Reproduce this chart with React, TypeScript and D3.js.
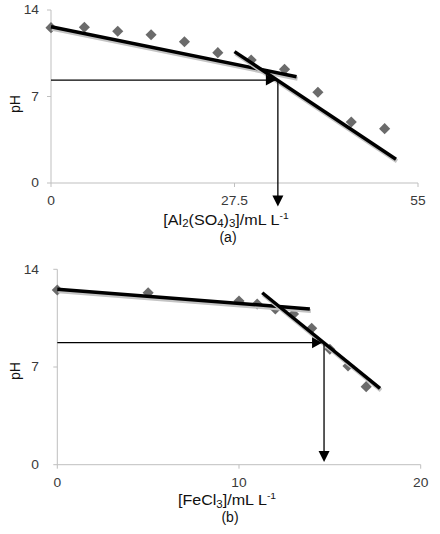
import React from "react";
import * as d3 from "d3";

// ---- data (a): Al2(SO4)3 ----
const alDose = [0, 5, 10, 15, 20, 25, 30, 35, 40, 45, 50];
const alPH = [12.57, 12.6, 12.28, 12.0, 11.43, 10.55, 9.95, 9.2, 7.34, 4.94, 4.4];
const alFit1 = [
  { x: 0, y: 12.65 },
  { x: 36.8, y: 8.6 },
];
const alFit2 = [
  { x: 27.5, y: 10.63 },
  { x: 51.7, y: 1.92 },
];
const alArrow = { x: 34, y: 8.33, yEnd: -1.9 };
const alXTicks = [0, 27.5, 55];

// ---- data (b): FeCl3 ----
const feDose = [0, 5, 10, 11, 12, 13, 14, 15, 16, 17];
const fePH = [12.52, 12.32, 11.73, 11.51, 11.16, 10.8, 9.77, 8.27, 7.07, 5.59];
const feFit1 = [
  { x: 0, y: 12.57 },
  { x: 13.9, y: 11.16 },
];
const feFit2 = [
  { x: 11.28, y: 12.32 },
  { x: 17.76, y: 5.47 },
];
const feArrow = { x: 14.68, y: 8.74, yEnd: 0.2 };
const feXTicks = [0, 10, 20];

const yTicks = [0, 7, 14];

const FONT = "Liberation Sans, Arial, sans-serif";
const AXIS = "#bfbfbf";
const TXT = "#3a3a3a";
const STRETCH = 1.15;

type Pt = { x: number; y: number };

function SText(props: {
  x: number;
  y: number;
  size: number;
  anchor?: string;
  fill?: string;
  children: React.ReactNode;
}) {
  return (
    <g transform={`translate(${props.x},${props.y}) scale(${STRETCH},1)`}>
      <text
        x={0}
        y={0}
        textAnchor={props.anchor || "middle"}
        fontSize={props.size}
        fill={props.fill || "#111"}
        fontFamily={FONT}
      >
        {props.children}
      </text>
    </g>
  );
}

function Panel(props: {
  xs: number[];
  ys: number[];
  fit1: Pt[];
  fit2: Pt[];
  arrow: { x: number; y: number; yEnd: number };
  xDomain: [number, number];
  xRange: [number, number];
  yRange: [number, number];
  xTicks: number[];
  xTitle: React.ReactNode;
  xTitleX: number;
  xTitleY: number;
  caption: string;
  captionX: number;
  captionY: number;
  pHY: number;
}) {
  const x = d3.scaleLinear().domain(props.xDomain).range(props.xRange);
  const y = d3.scaleLinear().domain([0, 14]).range(props.yRange);
  const line = d3
    .line<Pt>()
    .x((d) => x(d.x))
    .y((d) => y(d.y));
  const diamond = d3.symbol().type(d3.symbolSquare).size(62)();
  const x0 = props.xRange[0];
  const x1 = props.xRange[1];
  const yb = props.yRange[0];
  const yt = props.yRange[1];
  const ax = x(props.arrow.x);
  const ay = y(props.arrow.y);
  const aEnd = y(props.arrow.yEnd);
  const fmt = (v: number) => String(v);
  return (
    <g>
      {/* axes */}
      <line x1={x0} x2={x0} y1={yt} y2={yb} stroke={AXIS} strokeWidth={1} />
      <line x1={x0} x2={x1} y1={yb} y2={yb} stroke={AXIS} strokeWidth={1} />
      {yTicks.map((t) => (
        <g key={"y" + t}>
          <line x1={x0 - 4} x2={x0} y1={y(t)} y2={y(t)} stroke={AXIS} />
          <SText x={39} y={y(t) + 4.2} size={12} anchor="end" fill={TXT}>
            {fmt(t)}
          </SText>
        </g>
      ))}
      {props.xTicks.map((t) => (
        <g key={"x" + t}>
          <line x1={x(t)} x2={x(t)} y1={yb} y2={yb + 4} stroke={AXIS} />
          <SText x={x(t)} y={yb + 22} size={12} fill={TXT}>
            {fmt(t)}
          </SText>
        </g>
      ))}
      <text
        transform={`translate(19.5,${props.pHY}) rotate(-90)`}
        textAnchor="middle"
        fontSize={14}
        fill="#111"
        fontFamily={FONT}
      >
        pH
      </text>
      {/* markers */}
      {props.xs.map((v, i) => (
        <path
          key={"m" + i}
          d={diamond || ""}
          transform={`translate(${x(v)},${y(props.ys[i])}) rotate(45)`}
          fill="#6b6b6b"
        />
      ))}
      {/* fitted lines with shadow */}
      {[props.fit1, props.fit2].map((f, i) => (
        <g key={"f" + i}>
          <path
            d={line(f) || ""}
            transform="translate(1,2)"
            stroke="#c4c4c4"
            strokeWidth={4}
            fill="none"
          />
          <path d={line(f) || ""} stroke="#000" strokeWidth={3.5} fill="none" />
        </g>
      ))}
      {/* arrows */}
      <line x1={x0} x2={ax - 2} y1={ay} y2={ay} stroke="#000" strokeWidth={1.3} />
      <path
        d={`M${ax - 2},${ay} L${ax - 12},${ay - 5.5} L${ax - 12},${ay + 5.5} Z`}
        fill="#000"
      />
      <line x1={ax} x2={ax} y1={ay} y2={aEnd - 8} stroke="#000" strokeWidth={1.3} />
      <path
        d={`M${ax},${aEnd} L${ax - 5.5},${aEnd - 11} L${ax + 5.5},${aEnd - 11} Z`}
        fill="#000"
      />
      <SText x={props.xTitleX} y={props.xTitleY} size={14}>
        {props.xTitle}
      </SText>
      <text
        x={props.captionX}
        y={props.captionY}
        textAnchor="middle"
        fontSize={14}
        fill="#111"
        fontFamily={FONT}
      >
        {props.caption}
      </text>
    </g>
  );
}

export default function App() {
  const alTitle = (
    <>
      <tspan>[Al</tspan>
      <tspan fontSize={10} dy={2.5}>2</tspan>
      <tspan dy={-2.5}>(SO</tspan>
      <tspan fontSize={10} dy={2.5}>4</tspan>
      <tspan dy={-2.5}>)</tspan>
      <tspan fontSize={10} dy={2.5}>3</tspan>
      <tspan dy={-2.5}>]/mL L</tspan>
      <tspan fontSize={9} dy={-6}>-1</tspan>
    </>
  );
  const feTitle = (
    <>
      <tspan>[FeCl</tspan>
      <tspan fontSize={10} dy={2.5}>3</tspan>
      <tspan dy={-2.5}>]/mL L</tspan>
      <tspan fontSize={9} dy={-6}>-1</tspan>
    </>
  );
  return (
    <div style={{ position: "absolute", left: 0, top: 0 }}>
      <svg width={440} height={534} style={{ display: "block", background: "#fff" }}>
        <Panel
          xs={alDose}
          ys={alPH}
          fit1={alFit1}
          fit2={alFit2}
          arrow={alArrow}
          xDomain={[0, 55]}
          xRange={[51, 418]}
          yRange={[183, 10]}
          xTicks={alXTicks}
          xTitle={alTitle}
          xTitleX={226}
          xTitleY={224.5}
          caption="(a)"
          captionX={228}
          captionY={242}
          pHY={104}
        />
        <Panel
          xs={feDose}
          ys={fePH}
          fit1={feFit1}
          fit2={feFit2}
          arrow={feArrow}
          xDomain={[0, 20]}
          xRange={[57.3, 420.7]}
          yRange={[464.7, 269.3]}
          xTicks={feXTicks}
          xTitle={feTitle}
          xTitleX={227}
          xTitleY={505}
          caption="(b)"
          captionX={230}
          captionY={522}
          pHY={371}
        />
      </svg>
    </div>
  );
}
